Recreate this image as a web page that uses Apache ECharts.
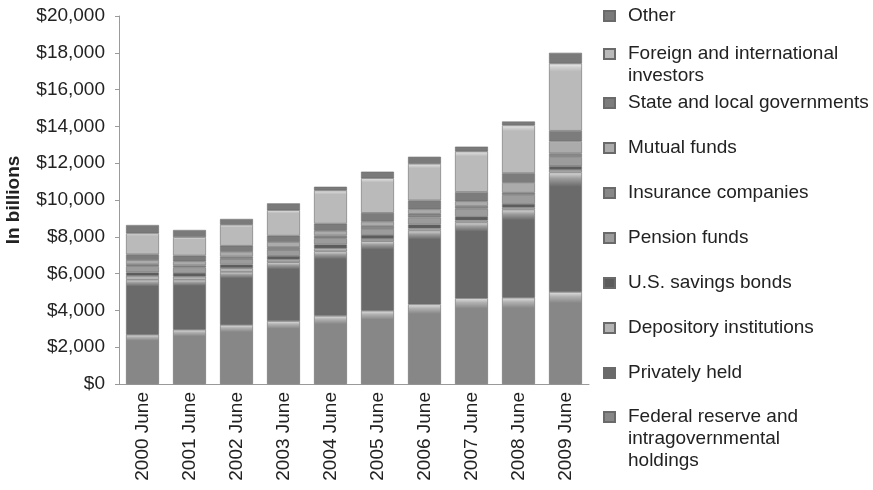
<!DOCTYPE html>
<html>
<head>
<meta charset="utf-8">
<script src="https://cdn.jsdelivr.net/npm/echarts@6/dist/echarts.min.js"></script>
<style>
    html, body { margin: 0; padding: 0; background: #fff; }
    #chart { width: 873px; height: 490px; }
</style>
</head>
<body>
<div id="chart"></div>
<script>
    // categories
    const years = ['2000 June', '2001 June', '2002 June', '2003 June', '2004 June',
        '2005 June', '2006 June', '2007 June', '2008 June', '2009 June']

    // in billions, stacked bottom to top
    const fedIntragov = [2680, 2950, 3210, 3420, 3700, 3980, 4330, 4660, 4690, 5000]
    const privatelyHeld = [2980, 2710, 2880, 3200, 3510, 3780, 4010, 4120, 4790, 6500]
    const depository = [222, 183, 205, 147, 168, 130, 120, 111, 113, 141]
    const savingsBonds = [185, 186, 193, 199, 205, 204, 205, 197, 195, 194]
    const pensionFunds = [335, 313, 320, 330, 340, 330, 390, 450, 480, 500]
    const insurance = [114, 106, 122, 137, 150, 160, 196, 140, 129, 200]
    const mutualFunds = [222, 221, 252, 282, 258, 248, 243, 252, 532, 650]
    const stateLocal = [309, 313, 333, 347, 385, 471, 485, 512, 537, 580]
    const foreign = [1140, 1000, 1135, 1384, 1800, 1878, 1985, 2192, 2587, 3650]
    const other = [453, 388, 320, 374, 204, 359, 386, 266, 217, 585]

    const yTicks = [0, 2000, 4000, 6000, 8000, 10000, 12000, 14000, 16000, 18000, 20000]

    const font = 'Liberation Sans, Arial, sans-serif'
    const fs = 19
    const lh = 22

    // name, data, base gray, legend first-line y, wrapped label
    const seriesDefs = [
        ['Federal reserve and intragovernmental holdings', fedIntragov, '#878787', 417, 'Federal reserve and\nintragovernmental\nholdings'],
        ['Privately held', privatelyHeld, '#6a6a6a', 373, 'Privately held'],
        ['Depository institutions', depository, '#b4b4b4', 328, 'Depository institutions'],
        ['U.S. savings bonds', savingsBonds, '#5c5c5c', 283, 'U.S. savings bonds'],
        ['Pension funds', pensionFunds, '#9c9c9c', 238, 'Pension funds'],
        ['Insurance companies', insurance, '#888888', 193, 'Insurance companies'],
        ['Mutual funds', mutualFunds, '#ababab', 148, 'Mutual funds'],
        ['State and local governments', stateLocal, '#7c7c7c', 103, 'State and local governments'],
        ['Foreign and international investors', foreign, '#bababa', 54, 'Foreign and international\ninvestors'],
        ['Other', other, '#7a7a7a', 16, 'Other']
    ]

    function lighten (hex, amt) {
        const v = parseInt(hex.slice(1, 3), 16)
        const c = Math.min(255, Math.round(v + (255 - v) * amt))
        const h = c.toString(16).padStart(2, '0')
        return '#' + h + h + h
    }

    function barColor (base) {
        return new echarts.graphic.LinearGradient(0, 0, 0, 1, [
            { offset: 0, color: lighten(base, 0.75) },
            { offset: 0.05, color: lighten(base, 0.35) },
            { offset: 0.12, color: base },
            { offset: 1, color: base }
        ])
    }

    const series = seriesDefs.map(d => ({
        name: d[0],
        type: 'bar',
        stack: 'total',
        barWidth: '70%',
        data: d[1],
        itemStyle: {
            color: barColor(d[2]),
            borderColor: '#6a6a6a',
            borderWidth: 0.6
        },
        emphasis: { disabled: true }
    }))

    // legend text is centred on its icon, so blank lines are put in front
    // to keep the icon level with the first line of a wrapped name
    const legends = seriesDefs.map(d => {
        const n = d[4].split('\n').length
        const label = '\n'.repeat(n - 1) + d[4]
        return {
            orient: 'vertical',
            left: 603,
            top: d[3] - (2 * n - 1) * lh / 2,
            padding: 0,
            icon: 'rect',
            itemWidth: 11,
            itemHeight: 10,
            selectedMode: false,
            data: [d[0]],
            formatter: () => label,
            textStyle: {
                fontFamily: font,
                fontSize: fs,
                color: '#222',
                lineHeight: lh,
                padding: [0, 0, 0, 8]
            }
        }
    })

    const option = {
        backgroundColor: '#ffffff',
        animation: false,
        grid: {
            left: 119,
            right: 284,
            top: 16,
            bottom: 106,
            outerBoundsMode: 'none'
        },
        legend: legends,
        xAxis: {
            type: 'category',
            data: years,
            axisLine: { lineStyle: { color: '#9a9a9a' } },
            axisTick: { show: false },
            axisLabel: {
                rotate: 90,
                margin: 8,
                interval: 0,
                fontFamily: font,
                fontSize: fs,
                color: '#222'
            }
        },
        yAxis: {
            type: 'value',
            min: yTicks[0],
            max: yTicks[yTicks.length - 1],
            interval: 2000,
            name: 'In billions',
            nameLocation: 'middle',
            nameGap: 96,
            nameTextStyle: {
                fontFamily: font,
                fontSize: fs,
                fontWeight: 'bold',
                color: '#222'
            },
            axisLine: { show: true, lineStyle: { color: '#9a9a9a' } },
            axisTick: { show: true, length: 4, lineStyle: { color: '#9a9a9a' } },
            splitLine: { show: false },
            axisLabel: {
                margin: 14,
                fontFamily: font,
                fontSize: fs,
                color: '#222',
                formatter: v => '$' + v.toLocaleString('en-US')
            }
        },
        series: series
    }

    const chart = echarts.init(document.getElementById('chart'))
    chart.setOption(option)
</script>
</body>
</html>
